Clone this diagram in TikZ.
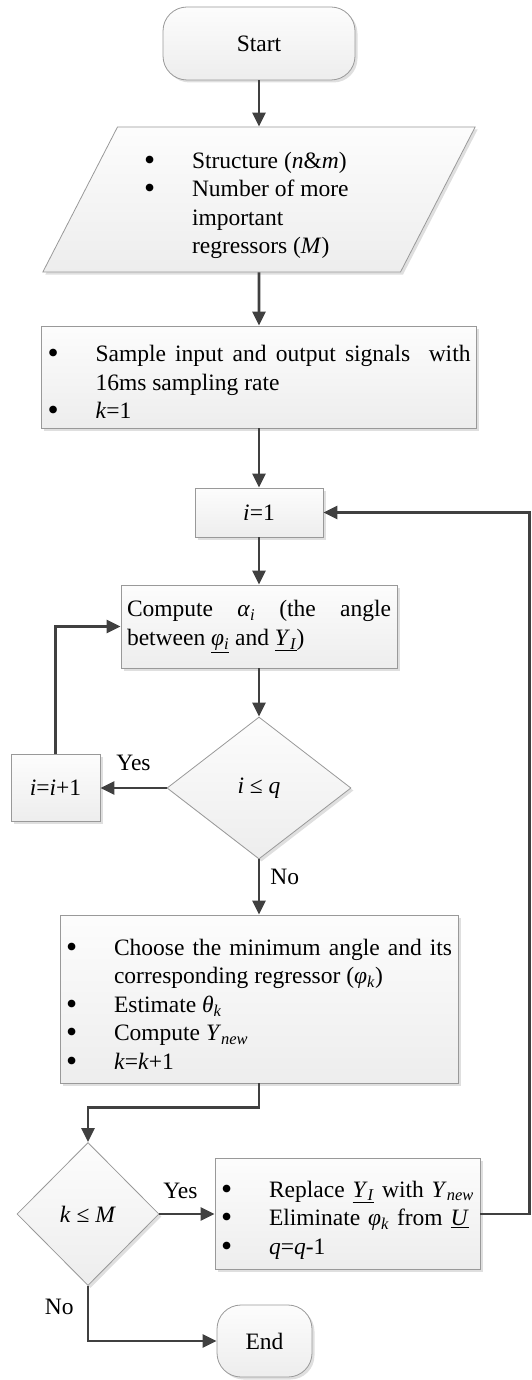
\documentclass[tikz,border=0pt]{standalone}
\usepackage{fontspec}
\setmainfont{Liberation Serif}
\usetikzlibrary{arrows.meta,shapes.geometric,shadows}

\tolerance=10000
\newcommand{\dotmark}{\raisebox{-0.08em}{\scalebox{1.35}{\textbullet}}}
\newcommand{\bitem}[1]{\par\noindent\hangindent=48pt\hangafter=1\makebox[48pt][l]{\dotmark}#1\par}
\newcommand{\sub}[1]{\textsubscript{\textit{#1}}}

\begin{document}
\begin{tikzpicture}[x=1pt, y=-1pt,
        every node/.style={font=\fontsize{23.5}{28.5}\selectfont},
        box/.style={draw=gray!80, line width=0.8pt, top color=gray!2, bottom color=gray!14,
            drop shadow={shadow xshift=2.5pt, shadow yshift=-2.5pt, opacity=0.25}},
        proc/.style={box, rectangle, inner xsep=6pt, inner ysep=4pt},
        term/.style={box, rectangle, rounded corners=24pt},
        cond/.style={box, diamond, inner sep=0pt},
        arr/.style={draw=black!75, line width=2.8pt, -{Triangle[length=14pt,width=13pt]}},
        lbl/.style={inner sep=3pt}
    ]
        \useasboundingbox (0,0) rectangle (531,1380);

        % Start and input
        \node[term, minimum width=192pt, minimum height=73pt] (start) at (259,43.5) {Start};
        \node[box, trapezium, trapezium left angle=63.6, trapezium right angle=116.4,
            trapezium stretches=true, minimum width=433pt, minimum height=145pt,
            text width=230pt, align=justify] (input) at (259,199.5)
            {\bitem{Structure (\textit{n}\&\textit{m})}\bitem{Number of more\hfil\break important\hfil\break regressors (\textit{M})}};

        % Sampling and first index
        \node[proc, minimum width=435pt, minimum height=102pt, text width=423pt, align=justify] (sample) at (259,377)
            {\bitem{Sample input and output signals\ \ with\linebreak 16ms sampling rate}\bitem{\textit{k}=1}};
        \node[proc, minimum width=128pt, minimum height=49pt] (init) at (259,512.5) {\textit{i}=1};

        % Inner loop
        \node[proc, minimum width=276pt, minimum height=83pt, text width=264pt, align=justify] (compute) at (259,626.5)
            {Compute \textit{α}\sub{i} (the angle\linebreak between \underline{\textit{φ}\sub{i}} and \underline{\textit{Y}\sub{I}})};
        \node[cond, minimum width=184pt, minimum height=142pt] (ckq) at (259,788) {\textit{i} ≤ \textit{q}};
        \node[proc, minimum width=89pt, minimum height=67pt] (incr) at (55.5,788) {\textit{i}=\textit{i}+1};

        % Selection
        \node[proc, minimum width=398pt, minimum height=168pt, text width=386pt, align=justify] (choose) at (259,999)
            {\bitem{Choose the minimum angle and its\linebreak corresponding regressor (\textit{φ}\sub{k})}\bitem{Estimate \textit{θ}\sub{k}}\bitem{Compute \textit{Y}\sub{new}}\bitem{\textit{k}=\textit{k}+1}};

        % Outer loop
        \node[cond, minimum width=142pt, minimum height=143pt] (ckm) at (88,1214) {\textit{k} ≤ \textit{M}};
        \node[proc, minimum width=265pt, minimum height=111pt, text width=253pt, align=left] (update) at (347.5,1214)
            {\bitem{Replace \underline{\textit{Y}\sub{I}} with \textit{Y}\sub{new}}\bitem{Eliminate \textit{φ}\sub{k} from \underline{\textit{U}}}\bitem{\textit{q}=\textit{q}-1}};
        \node[term, minimum width=95pt, minimum height=72pt] (stop) at (264.5,1341) {End};

        \coordinate (back) at (529.5,1214);

        % Arrows
        \draw[arr] (start) -- (input);
        \draw[arr] (input) -- (sample);
        \draw[arr] (sample) -- (init);
        \draw[arr] (init) -- (compute);
        \draw[arr] (compute) -- (ckq);
        \draw[arr] (ckq) -- node[lbl, above=13pt] (yes1) {Yes} (incr);
        \draw[arr] (incr.north) |- (compute.west);
        \draw[arr] (ckq) -- node[lbl, right=7pt, pos=0.32] (no1) {No} (choose);
        \draw[arr] (choose.south) -- ++(0,24) -| (ckm.north);
        \draw[arr] (ckm) -- node[lbl, above=11pt, pos=0.38] (yes2) {Yes} (update);
        \draw[arr] (ckm.south) |- node[lbl, left=10pt, pos=0.19] (no2) {No} (stop.west);
        \draw[arr] (update.east) -- (back) |- (init.east);

    \end{tikzpicture}
\end{document}
